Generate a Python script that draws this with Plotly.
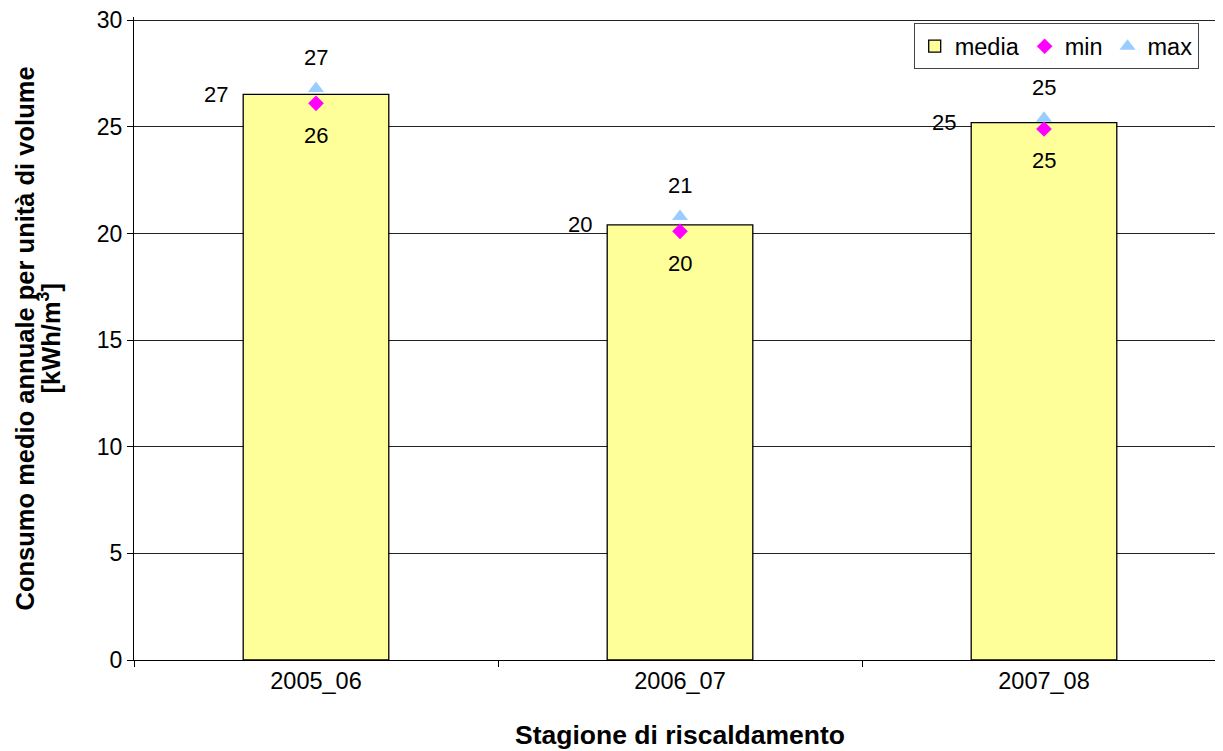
import plotly.graph_objects as go

stagioni = ['2005_06', '2006_07', '2007_08']
media = [26.52, 20.4, 25.2]
minimo = [26.1, 20.1, 24.9]
massimo = [26.8, 20.8, 25.4]
y_ticks = [0, 5, 10, 15, 20, 25, 30]

y_title_1 = '<b>Consumo medio annuale per unità di volume</b>'
y_title_2 = '<b>[kWh/m<sup>3</sup>]</b>'

FONT = 'Liberation Sans, Arial, sans-serif'

fig = go.Figure()
fig.add_trace(go.Bar(
    x=stagioni, y=media, name='media',
    marker=dict(color='#FFFF99', line=dict(color='black', width=1.3)),
))
fig.add_trace(go.Scatter(
    x=stagioni, y=minimo, name='min', mode='markers',
    marker=dict(symbol='diamond', color='#FF00FF', size=12),
))
fig.add_trace(go.Scatter(
    x=stagioni, y=massimo, name='max', mode='markers',
    marker=dict(symbol='triangle-up', color='#99CCFF', size=14),
))

# data labels
for s, v in zip(stagioni, media):
    fig.add_annotation(x=s, y=v, text=f'{v:.0f}', showarrow=False,
                       xanchor='right', xshift=-86, font=dict(size=22))
for s, v in zip(stagioni, minimo):
    fig.add_annotation(x=s, y=v, text=f'{v:.0f}', showarrow=False,
                       yshift=-32, font=dict(size=22))
for s, v in zip(stagioni, massimo):
    fig.add_annotation(x=s, y=v, text=f'{v:.0f}', showarrow=False,
                       yshift=31, font=dict(size=22))

# y title as two rotated lines
fig.add_annotation(xref='paper', yref='paper', x=0, y=0.5, text=y_title_1,
                   textangle=-90, showarrow=False, xanchor='center',
                   xshift=-110, font=dict(size=25.5))
fig.add_annotation(xref='paper', yref='paper', x=0, y=0.5, text=y_title_2,
                   textangle=-90, showarrow=False, xanchor='center',
                   xshift=-85, font=dict(size=25.5))

# page body adds an 8px offset, margins compensate
fig.update_layout(
    width=1223, height=751,
    margin=dict(l=126, r=5, t=9, b=99),
    plot_bgcolor='white', paper_bgcolor='white',
    font=dict(family=FONT, size=22, color='black'),
    bargap=0.6,
    showlegend=True,
    legend=dict(
        orientation='h', x=0.975, xanchor='right', y=0.99, yanchor='top',
        bordercolor='#444', borderwidth=1, bgcolor='white',
        font=dict(size=23.5), itemwidth=30, tracegroupgap=0,
    ),
    xaxis=dict(
        range=[-0.5, 2.5], showline=True, linecolor='black', linewidth=1,
        ticks='outside', tickson='boundaries', ticklen=6, tickcolor='black',
        tickfont=dict(size=23.5), automargin=False,
        title=dict(text='<b>Stagione di riscaldamento</b>', font=dict(size=26.5), standoff=32),
    ),
    yaxis=dict(
        range=[0, 30.15], tickvals=y_ticks, showline=True, linecolor='black', linewidth=1,
        ticks='outside', ticklen=6, tickcolor='black', ticklabeloverflow='allow',
        showgrid=True, gridcolor='#222', gridwidth=1, zeroline=False,
        tickfont=dict(size=23), automargin=False,
    ),
)

fig.write_html('out.html')
